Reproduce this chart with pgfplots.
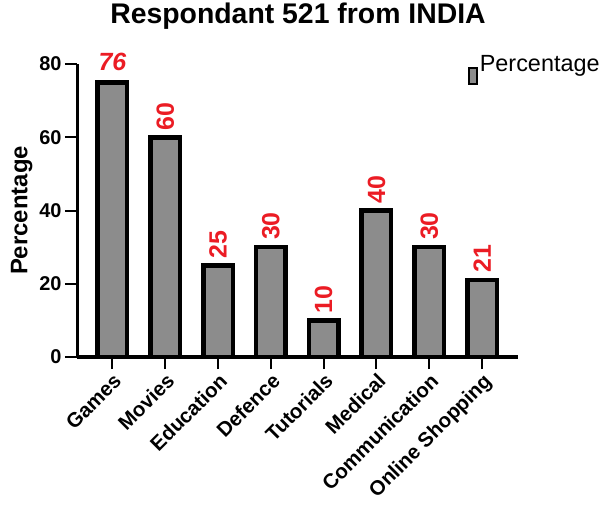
\documentclass[border=0pt]{standalone}
\usepackage{fontspec}
\setmainfont{Liberation Sans}
\usepackage{pgfplots}
\pgfplotsset{compat=1.18}
\usepackage{pgfplotstable}
\definecolor{lab}{RGB}{235,28,36}
\definecolor{barfill}{RGB}{140,140,140}

\pgfplotstableread{
x y lab
0 75 76
}\games
\pgfplotstableread{
x y lab
1 60 60
2 25 25
3 30 30
4 10 10
5 40 40
6 30 30
7 21 21
}\rest

\begin{document}
\begin{tikzpicture}
\useasboundingbox (0,0) rectangle (604bp,516bp);
\node[anchor=base, font=\bfseries\fontsize{28.5}{31}\selectfont] at (298bp,492bp) {Respondant 521 from INDIA};
\begin{axis}[
  at={(77bp,159bp)}, anchor=south west,
  scale only axis, width=441bp, height=293bp,
  axis x line=bottom, axis y line=left,
  axis line style={-, line width=3bp},
  xmin=-0.67, xmax=7.68, ymin=0, ymax=80,
  ytick={0,20,40,60,80},
  xtick={0,...,7},
  xticklabels={Games,Movies,Education,Defence,Tutorials,Medical,Communication,Online Shopping},
  tick align=outside, major tick length=12bp,
  tick style={line width=2bp, black},
  /pgf/number format/assume math mode=true,
  yticklabel style={font=\bfseries\fontsize{20}{22}\selectfont},
  xticklabel style={font=\bfseries\fontsize{20.5}{23}\selectfont, rotate=45, anchor=north east, inner sep=2bp},
  ylabel={Percentage},
  ylabel style={font=\bfseries\fontsize{24}{26}\selectfont},
  ybar, bar width=29.5bp,
  legend style={at={(rel axis cs:0.887,1.037)}, anchor=north west, draw=none, fill=none,
    font=\fontsize{23.5}{26}\selectfont, inner sep=0pt},
  legend image code/.code={\draw[line width=1.5bp, fill=barfill] (0bp,-20bp) rectangle (8bp,-4bp);},
  clip=false,
]
\addplot[bar shift=0pt, draw=black, line width=4.5bp, fill=barfill,
  point meta=explicit symbolic,
  nodes near coords,
  nodes near coords style={anchor=south, yshift=6bp, inner sep=3bp, text=lab,
    font=\bfseries\itshape\fontsize{25}{27}\selectfont}]
  table[x=x, y=y, meta=lab] {\games};
\addlegendentry{Percentage}
\addplot[bar shift=0pt, draw=black, line width=4.5bp, fill=barfill,
  point meta=explicit symbolic,
  nodes near coords,
  nodes near coords style={rotate=90, anchor=west, inner sep=5bp, text=lab,
    font=\bfseries\fontsize{25}{27}\selectfont}, forget plot]
  table[x=x, y=y, meta=lab] {\rest};
\end{axis}
\end{tikzpicture}
\end{document}
